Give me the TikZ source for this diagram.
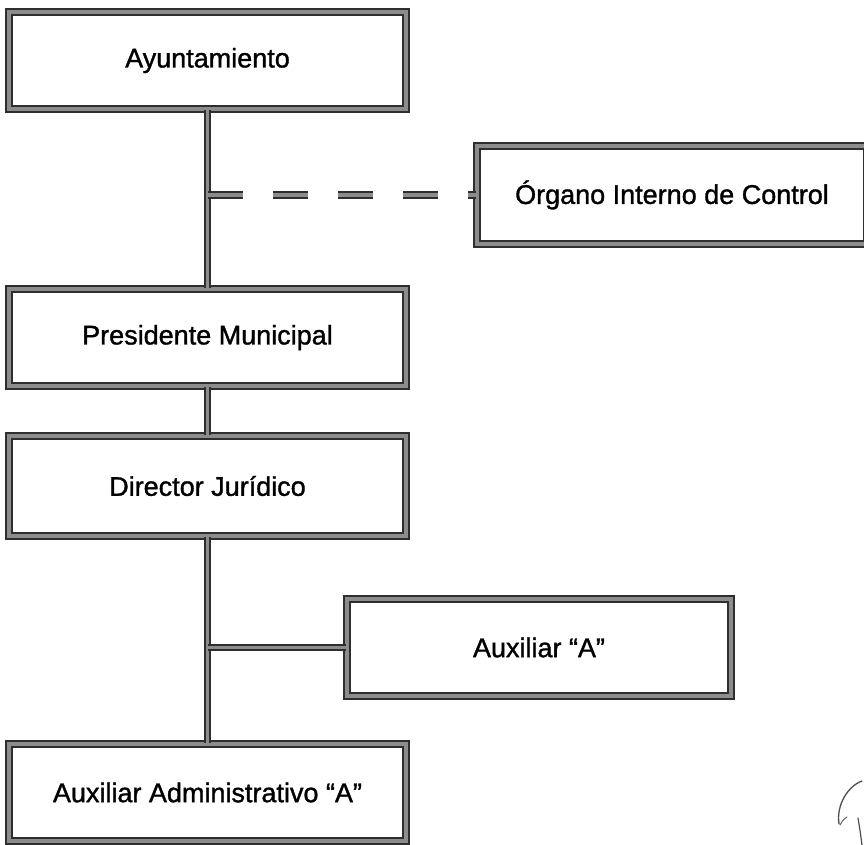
\documentclass[tikz,border=0pt]{standalone}
\usepackage{fontspec}
\setmainfont{Liberation Sans}[FakeBold=1.2]
\begin{document}
\begin{tikzpicture}[x=1pt,y=-1pt,
  rail/.style={draw=black!82, line width=2.2pt, double=black!45, double distance=3.4pt},
  unit/.style={rail, fill=white, rectangle, inner sep=0pt, align=center,
    font=\fontsize{27}{32}\selectfont},
  link/.style={rail},
  dotted link/.style={rail, dash pattern=on 35pt off 30pt}]
\useasboundingbox (0,0) rectangle (864,845);

% boxes (centre, width, height)
\node[unit, minimum width=397pt, minimum height=97pt] (ayu) at (207.5,60.5) {Ayuntamiento};
\node[unit, minimum width=390pt, minimum height=98pt] (org) at (672,195) {Órgano Interno de Control};
\node[unit, minimum width=397pt, minimum height=97pt] (pre) at (207.5,337.5) {Presidente Municipal};
\node[unit, minimum width=397pt, minimum height=100pt] (dir) at (207.5,486) {Director Jurídico};
\node[unit, minimum width=384pt, minimum height=97pt] (auxa) at (539,647.5) {Auxiliar “A”};
\node[unit, minimum width=397pt, minimum height=97pt] (adm) at (207.5,792.5) {Auxiliar Administrativo “A”};

% junction points on the trunk
\coordinate (j1) at (ayu.south |- org.west);
\coordinate (j2) at (dir.south |- auxa.west);

% connectors
\draw[link] (ayu.south) -- (pre.north);
\draw[dotted link] (j1) -- (org.west);
\draw[link] (pre.south) -- (dir.north);
\draw[link] (dir.south) -- (adm.north);
\draw[link] (j2) -- (auxa.west);

% handwritten mark in the corner
\draw[black!70, line width=1.3pt, line cap=round]
  (839,824) .. controls (836,805) and (848,786) .. (862,781);
\draw[black!60, line width=1pt, line cap=round]
  (840,825) .. controls (843,820) .. (847,817);
\draw[black!70, line width=1.2pt, line cap=round]
  (858,818) .. controls (860,830) .. (862,845);
\end{tikzpicture}
\end{document}
